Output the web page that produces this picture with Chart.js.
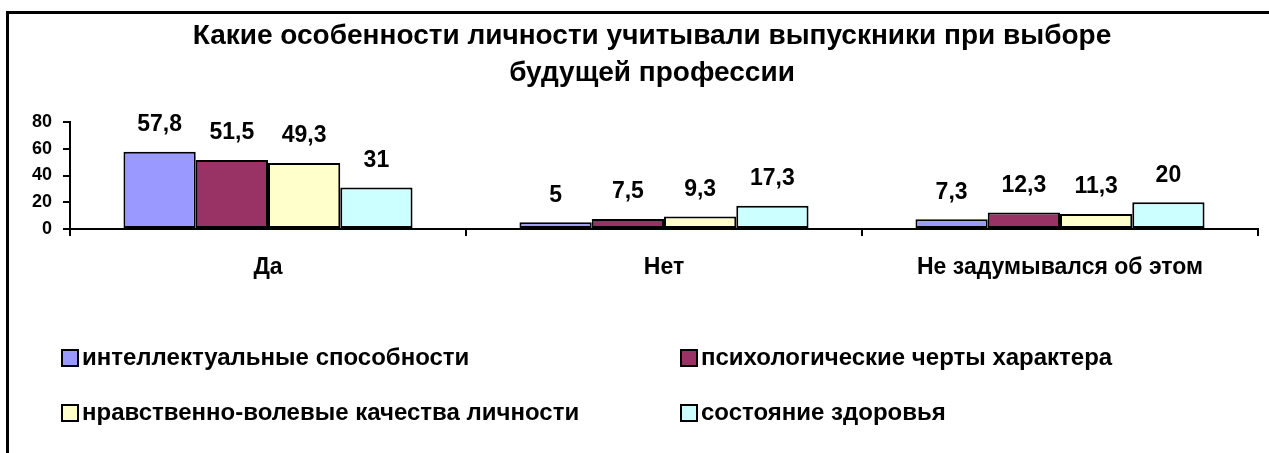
<!DOCTYPE html>
<html lang="ru">
<head>
<meta charset="UTF-8">
<title>Какие особенности личности учитывали выпускники</title>
<script src="https://cdn.jsdelivr.net/npm/chart.js"></script>
<style>
  html, body { margin: 0; padding: 0; background: #fff; overflow: hidden; }
  #frame { position: absolute; left: 6px; top: 11px; width: 2000px; height: 2000px; border: 3px solid #000; }
  #wrap { position: absolute; left: 0; top: 0; width: 1269px; height: 453px; }
</style>
</head>
<body>
<div id="frame"></div>
<div id="wrap"><canvas id="chart"></canvas></div>
<script>
// data
const categories = ['Да', 'Нет', 'Не задумывался об этом'];
const seriesNames = [
  'интеллектуальные способности',
  'психологические черты характера',
  'нравственно-волевые качества личности',
  'состояние здоровья'
];
const intellect = [57.8, 5, 7.3];
const psych = [51.5, 7.5, 12.3];
const moral = [49.3, 9.3, 11.3];
const health = [31, 17.3, 20];
const yTicks = [0, 20, 40, 60, 80];
const titleLines = ['Какие особенности личности учитывали выпускники при выборе', 'будущей профессии'];

const colors = ['#9999FF', '#993366', '#FFFFCC', '#CCFFFF'];
const FONT = '"Liberation Sans", Arial, sans-serif';

// title is a bit right of the canvas centre in the original, so draw it here
const chartTitle = {
  id: 'chartTitle',
  afterDraw(chart) {
    const ctx = chart.ctx;
    ctx.save();
    ctx.font = 'bold 28px ' + FONT;
    ctx.fillStyle = '#000';
    ctx.textAlign = 'center';
    ctx.textBaseline = 'middle';
    titleLines.forEach((t, i) => ctx.fillText(t, 652, 36 + i * 37));
    ctx.restore();
  }
};

// value labels above every bar
const valueLabels = {
  id: 'valueLabels',
  afterDatasetsDraw(chart) {
    const ctx = chart.ctx;
    ctx.save();
    ctx.font = 'bold 23px ' + FONT;
    ctx.fillStyle = '#000';
    ctx.textAlign = 'center';
    ctx.textBaseline = 'middle';
    chart.data.datasets.forEach((ds, i) => {
      chart.getDatasetMeta(i).data.forEach((bar, j) => {
        ctx.fillText(String(ds.data[j]).replace('.', ','), bar.x, bar.y - 27);
      });
    });
    ctx.restore();
  }
};

// two-column legend under the plot
const bottomLegend = {
  id: 'bottomLegend',
  afterDraw(chart) {
    const ctx = chart.ctx;
    const colX = [62, 681];
    const rowY = [358, 413];
    ctx.save();
    ctx.font = 'bold 24px ' + FONT;
    ctx.textBaseline = 'middle';
    ctx.textAlign = 'left';
    chart.data.datasets.forEach((ds, i) => {
      const x = colX[i % 2];
      const y = rowY[Math.floor(i / 2)];
      ctx.fillStyle = ds.backgroundColor;
      ctx.fillRect(x, y - 8, 16, 16);
      ctx.lineWidth = 2;
      ctx.strokeStyle = '#000';
      ctx.strokeRect(x, y - 8, 16, 16);
      ctx.fillStyle = '#000';
      ctx.fillText(ds.label, x + 20, y);
    });
    ctx.restore();
  }
};

const seriesData = [intellect, psych, moral, health];

new Chart(document.getElementById('chart'), {
  type: 'bar',
  data: {
    labels: categories,
    datasets: seriesData.map((d, i) => ({
      label: seriesNames[i],
      data: d,
      backgroundColor: colors[i],
      borderColor: '#000',
      borderWidth: 2,
      borderSkipped: false,
      categoryPercentage: 0.73,
      barPercentage: 1
    }))
  },
  options: {
    responsive: true,
    maintainAspectRatio: false,
    animation: false,
    layout: { padding: { top: 122, left: 0, right: 11, bottom: 174 } },
    plugins: {
      legend: { display: false },
      tooltip: { enabled: false },
      title: { display: false }
    },
    scales: {
      x: {
        grid: { drawOnChartArea: false, drawTicks: true, tickLength: 7, color: '#000', lineWidth: 2 },
        border: { color: '#000', width: 2 },
        ticks: { color: '#000', padding: 18, font: { family: FONT, size: 23, weight: 'bold' } },
        afterFit(scale) { scale.height = 50; }
      },
      y: {
        min: 0,
        max: 80,
        afterBuildTicks(scale) { scale.ticks = yTicks.map(v => ({ value: v })); },
        grid: { drawOnChartArea: false, drawTicks: true, tickLength: 7, color: '#000', lineWidth: 2 },
        border: { color: '#000', width: 2 },
        ticks: { color: '#000', padding: 11, font: { family: FONT, size: 18, weight: 'bold' } },
        afterFit(scale) { scale.width = 70; }
      }
    }
  },
  plugins: [chartTitle, valueLabels, bottomLegend]
});
</script>
</body>
</html>
